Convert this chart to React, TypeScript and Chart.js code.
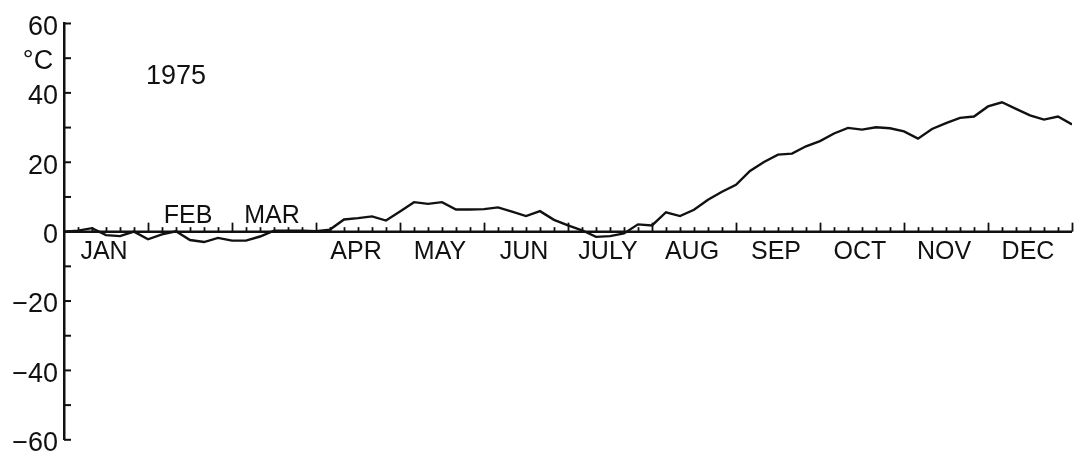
import React, { useEffect, useRef } from 'react';
import { Chart, registerables } from 'chart.js';

Chart.register(...registerables);

// Pentad (5-day) mean temperatures, °C, 1975 — 73 points at pentad boundaries
const pentadTemps: number[] = [
  0, 0.3, 1.0, -1.0, -1.3, 0, -2.2,
  -0.8, 0.1, -2.4, -3.0, -1.8, -2.6,
  -2.6, -1.4, 0.3, 0.3, 0.3, 0.1,
  0.6, 3.5, 3.9, 4.4, 3.2, 5.8,
  8.5, 8.0, 8.5, 6.4, 6.4, 6.5,
  7.0, 5.8, 4.5, 5.9, 3.4, 1.8,
  0.4, -1.5, -1.3, -0.5, 2.1, 1.8,
  5.6, 4.5, 6.3, 9.2, 11.5, 13.5,
  17.5, 20.1, 22.2, 22.5, 24.6, 26.1,
  28.3, 29.9, 29.4, 30.1, 29.8, 28.9,
  26.8, 29.6, 31.3, 32.8, 33.2, 36.1,
  37.3, 35.4, 33.5, 32.3, 33.2, 30.9,
];

const months: string[] = ['JAN', 'FEB', 'MAR', 'APR', 'MAY', 'JUN', 'JULY', 'AUG', 'SEP', 'OCT', 'NOV', 'DEC'];
const monthLabelAbove: boolean[] = [false, true, true, false, false, false, false, false, false, false, false, false];
const pentadsPerMonth = 6;

const yMin = -60;
const yMax = 60;
const yLabelStep = 20;
const yMinorStep = 10;

const yearLabel = '1975';
const unitLabel = '°C';

const INK = '#111';
const FAMILY = '"Liberation Sans", Arial, sans-serif';

const axesPlugin = {
  id: 'customAxes',
  beforeDatasetsDraw(chart: any) {
    const { ctx, chartArea, scales } = chart;
    const xs = scales.x;
    const ys = scales.y;
    const y0 = ys.getPixelForValue(0);
    const nPentads = months.length * pentadsPerMonth;
    ctx.save();
    ctx.strokeStyle = INK;
    ctx.lineWidth = 2.5;
    ctx.beginPath();
    ctx.moveTo(xs.getPixelForValue(0), y0);
    ctx.lineTo(xs.getPixelForValue(nPentads), y0);
    ctx.stroke();
    ctx.lineWidth = 1.8;
    for (let k = 1; k <= nPentads; k++) {
      const px = Math.round(xs.getPixelForValue(k)) + 0.5;
      const h = k % pentadsPerMonth === 0 ? 9 : 4.5;
      ctx.beginPath();
      ctx.moveTo(px, y0);
      ctx.lineTo(px, y0 - h);
      ctx.stroke();
    }
    ctx.lineWidth = 2;
    for (let v = yMin; v <= yMax; v += yMinorStep) {
      const py = ys.getPixelForValue(v);
      ctx.beginPath();
      ctx.moveTo(chartArea.left, py);
      ctx.lineTo(chartArea.left + 7, py);
      ctx.stroke();
    }
    ctx.restore();
  },
  afterDraw(chart: any) {
    const { ctx, chartArea, scales } = chart;
    const xs = scales.x;
    const ys = scales.y;
    const y0 = ys.getPixelForValue(0);
    ctx.save();
    ctx.fillStyle = INK;
    ctx.textAlign = 'center';
    ctx.textBaseline = 'middle';
    ctx.font = '25px ' + FAMILY;
    months.forEach((m, i) => {
      const px = xs.getPixelForValue(i * pentadsPerMonth + pentadsPerMonth / 2) - 2;
      const py = monthLabelAbove[i] ? y0 - 16 : y0 + 20;
      ctx.fillText(m, px, py);
    });
    ctx.font = '27px ' + FAMILY;
    ctx.fillText(yearLabel, xs.getPixelForValue(8), ys.getPixelForValue(44.6));
    ctx.fillText(unitLabel, chartArea.left - 26, ys.getPixelForValue(49));
    ctx.restore();
  },
};

export default function App() {
  const canvasRef = useRef<HTMLCanvasElement | null>(null);

  useEffect(() => {
    const canvas = canvasRef.current;
    if (!canvas) return;
    const chart = new Chart(canvas, {
      type: 'line',
      data: {
        datasets: [
          {
            data: pentadTemps.map((v, i) => ({ x: i, y: v })),
            borderColor: INK,
            borderWidth: 2.4,
            pointRadius: 0,
            tension: 0,
            fill: false,
          },
        ],
      },
      options: {
        animation: false,
        responsive: false,
        devicePixelRatio: 1,
        layout: { padding: { left: 0, right: 3, top: 23.5, bottom: 19 } },
        plugins: { legend: { display: false }, tooltip: { enabled: false } },
        scales: {
          x: { type: 'linear', min: 0, max: months.length * pentadsPerMonth, display: false },
          y: {
            type: 'linear',
            min: yMin,
            max: yMax,
            afterFit: (s: any) => {
              s.width = 64;
            },
            ticks: {
              stepSize: yLabelStep,
              autoSkip: false,
              padding: 6,
              labelOffset: 4,
              color: INK,
              font: { family: FAMILY, size: 27 },
              callback: (v: any) => (Number(v) < 0 ? '\u2212' + Math.abs(Number(v)) : String(v)),
            },
            grid: { display: true, drawOnChartArea: false, drawTicks: false },
            border: { display: true, color: INK, width: 2.5 },
          },
        },
      } as any,
      plugins: [axesPlugin],
    });
    return () => chart.destroy();
  }, []);

  return (
    <div style={{ position: 'fixed', left: 0, top: 0, width: 1075, height: 462, background: '#fff' }}>
      <canvas ref={canvasRef} width={1075} height={462} style={{ display: 'block' }} />
    </div>
  );
}
